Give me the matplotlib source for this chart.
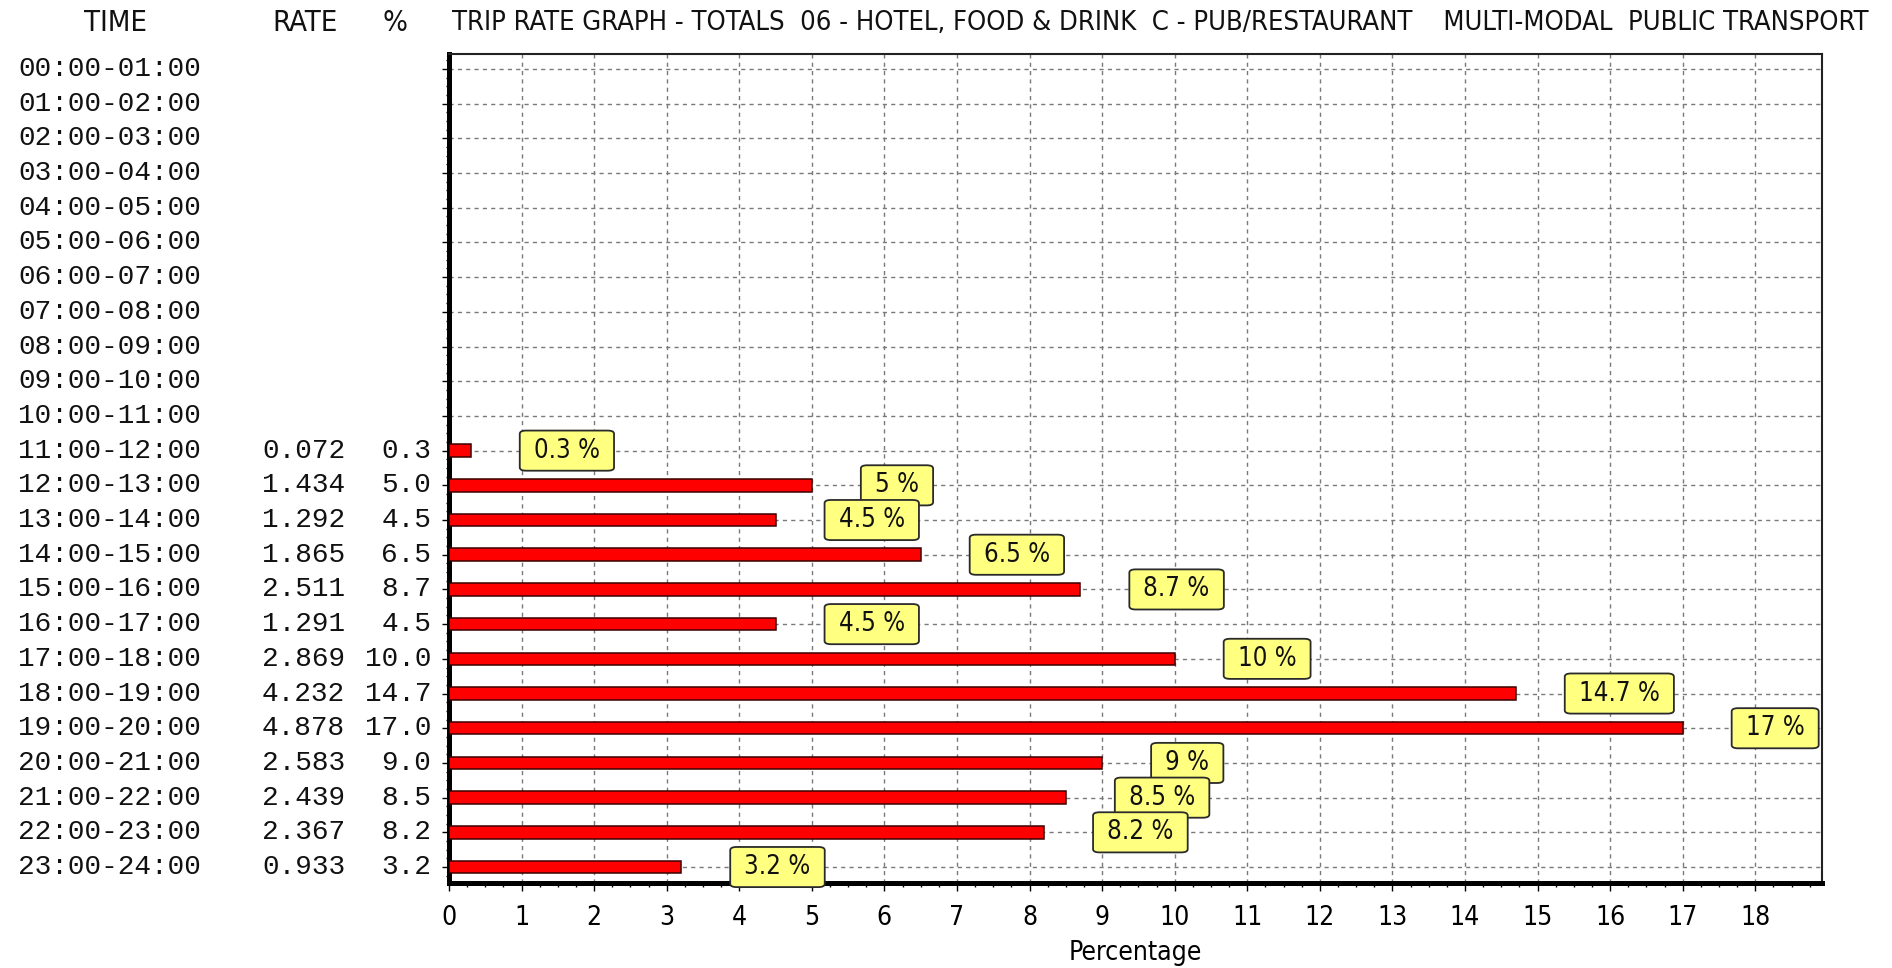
import os
import matplotlib
matplotlib.use("Agg")
import matplotlib.pyplot as plt
import matplotlib.font_manager as fm
from matplotlib.ticker import MultipleLocator
from matplotlib import transforms

# ---------------- data ----------------
times = ["00:00-01:00", "01:00-02:00", "02:00-03:00", "03:00-04:00",
         "04:00-05:00", "05:00-06:00", "06:00-07:00", "07:00-08:00",
         "08:00-09:00", "09:00-10:00", "10:00-11:00", "11:00-12:00",
         "12:00-13:00", "13:00-14:00", "14:00-15:00", "15:00-16:00",
         "16:00-17:00", "17:00-18:00", "18:00-19:00", "19:00-20:00",
         "20:00-21:00", "21:00-22:00", "22:00-23:00", "23:00-24:00"]
rates = [None] * 11 + [0.072, 1.434, 1.292, 1.865, 2.511, 1.291, 2.869,
                       4.232, 4.878, 2.583, 2.439, 2.367, 0.933]
percents = [None] * 11 + [0.3, 5.0, 4.5, 6.5, 8.7, 4.5, 10.0,
                          14.7, 17.0, 9.0, 8.5, 8.2, 3.2]
x_ticks = list(range(0, 19))
title = ("TRIP RATE GRAPH - TOTALS  06 - HOTEL, FOOD & DRINK  C - PUB/RESTAURANT"
         "    MULTI-MODAL  PUBLIC TRANSPORT")
col_headers = ["TIME", "RATE", "%"]
x_label = "Percentage"

# ---------------- fonts ----------------
def find_narrow():
    prefs = ["Liberation Sans Narrow"]
    for p in prefs:
        for e in fm.fontManager.ttflist:
            if e.name == p and e.style == "normal" and e.weight in (400, "normal", "regular"):
                return e.fname
    for e in fm.fontManager.ttflist:
        fn = os.path.basename(e.fname).lower()
        if ("condensed" in fn or "narrow" in fn) and e.style == "normal" and \
                not any(k in fn for k in ("bold", "oblique", "italic", "light", "thin", "black", "semi", "medium", "extra")):
            return e.fname
    return None

narrow = find_narrow()
if narrow:
    def sans(size):
        return fm.FontProperties(fname=narrow, size=size)
    SCALE = 1.0
else:
    def sans(size):
        return fm.FontProperties(family="Liberation Sans", size=size)
    SCALE = 0.88
mono = fm.FontProperties(family="Liberation Mono", size=20)

W, H = 1892, 968
fig = plt.figure(figsize=(W / 100, H / 100), dpi=100, facecolor="white")
ax_left, ax_right, ax_top, ax_bot = 449, 1822, 54, 883
ax = fig.add_axes([ax_left / W, 1 - ax_bot / H, (ax_right - ax_left) / W, (ax_bot - ax_top) / H])
ax.set_facecolor("white")

n = len(times)
ax.set_xlim(0, 18.92)
ax.set_ylim(n - 1 + 0.46, -0.43)

# bars
idx = [i for i, p in enumerate(percents) if p is not None]
vals = [percents[i] for i in idx]
ax.barh(idx, vals, height=0.36, color="#ff0000", edgecolor="#3a0000",
        linewidth=1.1, zorder=3)

# grid
ax.set_xticks(x_ticks)
ax.set_xticklabels([str(t) for t in x_ticks])
ax.set_yticks(range(n))
ax.set_yticklabels([])
ax.xaxis.set_minor_locator(MultipleLocator(0.25))
ax.yaxis.set_minor_locator(MultipleLocator(0.25))
ax.grid(True, which="major", color="#7a7a7a", linestyle=(0, (3, 3)), linewidth=1.0, zorder=1)
ax.set_axisbelow(True)

for t in ax.get_xticklabels():
    t.set_fontproperties(sans(19 * SCALE))
ax.tick_params(axis="x", which="major", direction="out", length=6, width=1, pad=10, colors="black")
ax.tick_params(axis="x", which="minor", direction="out", length=3, width=1)
ax.tick_params(axis="y", which="major", direction="out", length=5, width=1)
ax.tick_params(axis="y", which="minor", direction="out", length=2.5, width=1)

ax.set_xlabel(x_label, fontproperties=sans(19 * SCALE), labelpad=6)

for s in ("left", "bottom"):
    ax.spines[s].set_linewidth(3.6)
for s in ("top", "right"):
    ax.spines[s].set_linewidth(1.5)
    ax.spines[s].set_color("#222222")

# value labels
lab_size = 18.5 * SCALE
lab_fp = sans(lab_size)
pad = 0.55
off_pt = (49 + pad * lab_size * 100 / 72) * 72 / 100
for i in idx:
    p = percents[i]
    txt = f"{p:g} %"
    ax.annotate(txt, xy=(p, i), xytext=(off_pt, 0), textcoords="offset points",
                ha="left", va="center", fontproperties=lab_fp, color="#111111",
                zorder=5, annotation_clip=False,
                bbox=dict(boxstyle=f"round,pad={pad},rounding_size=0.25", fc="#ffff80",
                          ec="#2a2a2a", lw=1.3, mutation_aspect=0.5))

# left table
tr = transforms.blended_transform_factory(fig.transFigure, ax.transData)
for i, t in enumerate(times):
    ax.text(18 / W, i, t, transform=tr, ha="left", va="center", fontproperties=mono,
            color="#111111", clip_on=False)
    if rates[i] is not None:
        ax.text(345 / W, i, f"{rates[i]:.3f}", transform=tr, ha="right", va="center",
                fontproperties=mono, color="#111111", clip_on=False)
    if percents[i] is not None:
        ax.text(431 / W, i, f"{percents[i]:.1f}", transform=tr, ha="right", va="center",
                fontproperties=mono, color="#111111", clip_on=False)

# headers
hy = 1 - 23 / H
hfp = sans(21 * SCALE)
fig.text(115 / W, hy, col_headers[0], ha="center", va="center", fontproperties=hfp, color="#111111")
fig.text(305 / W, hy, col_headers[1], ha="center", va="center", fontproperties=hfp, color="#111111")
fig.text(395 / W, hy, col_headers[2], ha="center", va="center", fontproperties=hfp, color="#111111")
fig.text(452 / W, hy, title, ha="left", va="center", fontproperties=sans(19.6 * SCALE),
         color="#111111")

fig.savefig("out.png", dpi=100, facecolor="white")
